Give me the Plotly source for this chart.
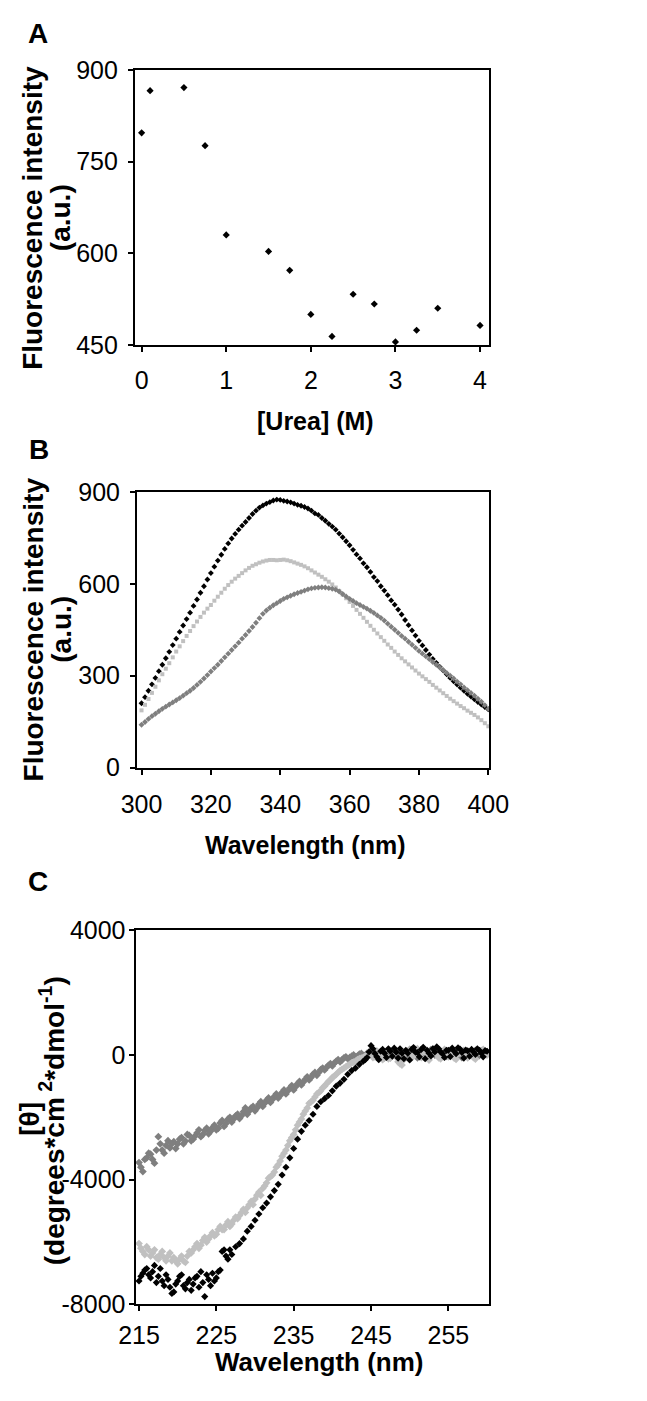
import numpy as np
import plotly.graph_objects as go

# ---------------- Panel A data ----------------
urea_m = [0, 0.1, 0.5, 0.75, 1, 1.5, 1.75, 2, 2.25, 2.5, 2.75, 3, 3.25, 3.5, 4]
fluo_a = [797, 866, 871, 776, 630, 603, 572, 500, 464, 533, 517, 455, 474, 510, 482]

# ---------------- Panel B data ----------------
wl_b = list(range(300, 401))
fluo_black = [210, 230, 251, 272, 293, 315, 336, 357, 378, 400,
              421, 443, 464, 485, 506, 528, 549, 571, 592, 614,
              635, 656, 676, 695, 714, 732, 748, 763, 777, 790,
              802, 815, 828, 839, 849, 856, 862, 867, 872, 875,
              874, 871, 869, 866, 862, 858, 855, 851, 846, 839,
              830, 825, 815, 806, 796, 787, 777, 764, 752, 739,
              726, 711, 696, 683, 667, 654, 639, 622, 609, 592,
              578, 563, 546, 532, 516, 500, 482, 465, 448, 431,
              414, 399, 384, 369, 355, 342, 329, 317, 305, 293,
              282, 271, 261, 251, 241, 232, 223, 214, 206, 198,
              190]
fluo_light = [187, 205, 224, 244, 264, 285, 305, 323, 341, 360,
              379, 396, 413, 430, 446, 462, 477, 492, 506, 519,
              531, 545, 558, 571, 584, 596, 607, 617, 626, 635,
              644, 652, 659, 664, 669, 673, 676, 678, 678, 677,
              678, 679, 677, 674, 670, 666, 662, 657, 651, 644,
              637, 630, 623, 615, 607, 598, 588, 577, 565, 553,
              541, 528, 515, 502, 489, 476, 463, 450, 438, 426,
              414, 402, 391, 379, 368, 357, 347, 337, 327, 317,
              307, 298, 289, 280, 270, 261, 252, 243, 234, 225,
              217, 209, 201, 194, 186, 179, 172, 164, 155, 145,
              135]
fluo_dark = [140, 149, 159, 168, 176, 184, 192, 199, 206, 213,
             220, 227, 235, 243, 251, 260, 270, 280, 291, 302,
             314, 325, 336, 348, 360, 372, 384, 396, 408, 421,
             433, 446, 459, 473, 488, 502, 513, 522, 530, 537,
             544, 551, 556, 561, 566, 570, 574, 578, 582, 585,
             587, 588, 589, 588, 586, 584, 581, 575, 567, 559,
             551, 544, 537, 531, 525, 519, 512, 505, 497, 489,
             480, 470, 460, 450, 440, 430, 421, 411, 401, 391,
             381, 372, 363, 354, 345, 336, 327, 318, 309, 300,
             291, 281, 272, 262, 253, 244, 235, 225, 215, 204,
             192]

# ---------------- Panel C data ----------------
# readings on the half-nm grid (215.0 ... 260.0)
wl_c = list(np.arange(215.0, 260.01, 0.5))
cd_dark = [-3450, -3740, -3300, -3180, -3470, -2620, -3050, -2900, -2980, -2780,
           -2850, -2650, -2760, -2580, -2700, -2500, -2620, -2420, -2530, -2330,
           -2400, -2180, -2290, -2060, -2150, -1950, -2040, -1820, -1900, -1700,
           -1790, -1580, -1650, -1450, -1520, -1330, -1380, -1200, -1250, -1060,
           -1120, -920, -960, -780, -800, -620, -650, -470, -480, -330,
           -350, -200, -220, -90, -120, -40, -70, 30, -20, 60,
           10, 90, -60, 120, 30, -80, 150, 40, -110, 90,
           180, 20, -90, 140, 60, -40, 190, 80, -70, 120,
           20, 160, -50, 90, 130, -30, 70, 150, -20, 60,
           100]
cd_light = [-6050, -6300, -6150, -6450, -6250, -6550, -6300, -6600, -6350, -6500,
            -6700, -6450, -6650, -6300, -6250, -6050, -6100, -5850, -5900, -5700,
            -5750, -5500, -5600, -5350, -5420, -5200, -5150, -4950, -4900, -4700,
            -4620, -4400, -4280, -4100, -3900, -3750, -3520, -3250, -3050, -2750,
            -2550, -2250, -2050, -1800, -1550, -1450, -1250, -1150, -1000, -850,
            -720, -620, -500, -420, -330, -250, -200, -120, -80, -20,
            150, -60, 80, -150, 120, -100, 40, -220, -320, 60,
            160, -40, 200, -80, 90, -160, 130, 20, -120, 180,
            -60, 100, -140, 60, 150, -90, 40, -130, 110, 180,
            0]
cd_black = [-7250, -7000, -6850, -7150, -6750, -7100, -7250, -7050, -7450, -7600,
            -7250, -7050, -7500, -7200, -7350, -7100, -6950, -7750, -7200, -7000,
            -7150, -6900, -6250, -6550, -6400, -6150, -6050, -5900, -5650, -5500,
            -5300, -5100, -4900, -4750, -4550, -4350, -4150, -3850, -3600, -3300,
            -3000, -2700, -2450, -2250, -2100, -1900, -1650, -1500, -1400, -1300,
            -1150, -1000, -900, -780, -620, -500, -420, -300, -200, -80,
            300, 50, -150, 180, -80, 120, 220, -100, 60, 150,
            -160, 240, 80, 180, -120, 60, 200, 260, 100, -80,
            150, 220, 40, 190, -100, 130, 180, 20, 150, -60,
            120]

# readings in between (215.25 ... 259.75)
wl_c_mid = list(np.arange(215.25, 259.76, 0.5))
cd_dark_mid = [-3600, -3350, -3150, -3350, -3050, -2850, -3150, -2750, -2850, -3000,
               -2700, -2850, -2550, -2750, -2600, -2400, -2550, -2350, -2450, -2250,
               -2350, -2100, -2200, -2000, -2050, -1900, -1950, -1700, -1800, -1650,
               -1700, -1500, -1550, -1380, -1430, -1250, -1300, -1120, -1150, -980,
               -1020, -850, -870, -700, -720, -560, -560, -420, -400, -280,
               -260, -150, -160, -60, -80, 0, -40, 50, -60, 30,
               100, -30, 60, -90, 110, 20, -50, 130, 60, -70,
               90, 150, 30, -60, 110, 170, 0, 140, 50, -40,
               110, 60, 130, -80, 40, 110, -40, 90, 140, 30]
cd_light_mid = [-6200, -6400, -6250, -6350, -6500, -6400, -6500, -6450, -6600, -6600,
                -6550, -6600, -6450, -6350, -6150, -6200, -5950, -6000, -5800, -5800,
                -5600, -5600, -5450, -5500, -5300, -5250, -5050, -5050, -4800, -4800,
                -4500, -4500, -4200, -3950, -3850, -3600, -3400, -3150, -2900, -2650,
                -2400, -2150, -1900, -1700, -1500, -1350, -1200, -1050, -920, -800,
                -680, -560, -460, -380, -300, -230, -150, -100, -40, 60,
                -80, 130, -40, 60, -120, 100, -60, -280, -150, 120,
                50, 170, -30, 110, -100, 40, 170, -90, 80, 30,
                160, -100, 40, 130, -30, 90, -80, 170, 30, 90]
wl_c_black_lo = list(np.arange(215.25, 226.76, 0.5))
cd_black_lo = [-7100, -6900, -7050, -6950, -7300, -6850, -7400, -7200, -7650, -7350,
               -7100, -7400, -7300, -7550, -7150, -7450, -7300, -7050, -7400, -7250,
               -6950, -6300, -6450, -6250]
wl_c_black_hi = list(np.arange(244.25, 259.76, 0.5))
cd_black_hi = [-150, 100, 200, -60, 120, 60, 200, -40, 90, 200,
               -120, 60, 180, 90, -60, 250, 150, -30, 100, 200,
               40, 150, -50, 120, 230, 80, 160, -40, 100, 200,
               60, 140]

# tick labels
ticks_a_x = [0, 1, 2, 3, 4]
ticks_a_y = [450, 600, 750, 900]
ticks_b_x = [300, 320, 340, 360, 380, 400]
ticks_b_y = [0, 300, 600, 900]
ticks_c_x = [215, 225, 235, 245, 255]
ticks_c_y = [-8000, -4000, 0, 4000]
ticks_c_y_text = ["-8000", "-4000", "0", "4000"]

FONT = "Liberation Sans, Arial, Helvetica, sans-serif"
BLACK = "#000000"
LIGHT = "#c0c0c0"
DARK = "#7f7f7f"

W, H = 647, 1401


def px(x):
    return x / W


def py(y):
    return 1 - y / H


def mk(sym, size, color):
    return dict(symbol=sym, size=size, color=color, line=dict(width=0))


fig = go.Figure()

# Panel A
fig.add_trace(go.Scatter(x=urea_m, y=fluo_a, mode="markers", xaxis="x", yaxis="y",
                         marker=mk("diamond", 5.5, BLACK), cliponaxis=False, showlegend=False))
# Panel B
fig.add_trace(go.Scatter(x=wl_b, y=fluo_black, mode="markers", xaxis="x2", yaxis="y2",
                         marker=mk("diamond", 4.5, BLACK), cliponaxis=False, showlegend=False))
fig.add_trace(go.Scatter(x=wl_b, y=fluo_light, mode="markers", xaxis="x2", yaxis="y2",
                         marker=mk("square", 4, LIGHT), cliponaxis=False, showlegend=False))
fig.add_trace(go.Scatter(x=wl_b, y=fluo_dark, mode="markers", xaxis="x2", yaxis="y2",
                         marker=mk("diamond", 4.5, DARK), cliponaxis=False, showlegend=False))
# Panel C
fig.add_trace(go.Scatter(x=wl_c + wl_c_mid, y=cd_dark + cd_dark_mid, mode="markers",
                         xaxis="x3", yaxis="y3", marker=mk("diamond", 6, DARK),
                         cliponaxis=False, showlegend=False))
fig.add_trace(go.Scatter(x=wl_c + wl_c_mid, y=cd_light + cd_light_mid, mode="markers",
                         xaxis="x3", yaxis="y3", marker=mk("diamond", 6, LIGHT),
                         cliponaxis=False, showlegend=False))
fig.add_trace(go.Scatter(x=wl_c + wl_c_black_lo + wl_c_black_hi,
                         y=cd_black + cd_black_lo + cd_black_hi, mode="markers",
                         xaxis="x3", yaxis="y3", marker=mk("diamond", 5.5, BLACK),
                         cliponaxis=False, showlegend=False))


def ax(size, standoff, **kw):
    d = dict(showline=True, linecolor=BLACK, linewidth=2, mirror=True,
             ticks="outside", ticklen=5, tickwidth=2, tickcolor=BLACK,
             showgrid=False, zeroline=False, ticklabelstandoff=standoff,
             tickfont=dict(family=FONT, size=size, color=BLACK))
    d.update(kw)
    return d


fig.update_layout(
    width=W, height=H, autosize=False,
    margin=dict(l=0, r=0, t=0, b=0),
    paper_bgcolor="white", plot_bgcolor="white",
    xaxis=ax(25, 7, domain=[px(125), px(501)], range=[-0.08, 4.11],
             tickvals=ticks_a_x, anchor="y"),
    yaxis=ax(25, 5, domain=[py(337.7), py(57)], range=[450, 900],
             tickvals=ticks_a_y, anchor="x"),
    xaxis2=ax(25, 8, domain=[px(127.3), px(501)], range=[298.7, 400.3],
              tickvals=ticks_b_x, anchor="y2"),
    yaxis2=ax(25, 5, domain=[py(769), py(487.7)], range=[0, 900],
              tickvals=ticks_b_y, anchor="x2"),
    xaxis3=ax(25, 3, domain=[px(125.7), px(501)], range=[214.55, 260.3],
              tickvals=ticks_c_x, anchor="y3"),
    yaxis3=ax(25, -2, domain=[py(1316.7), py(935)], range=[-8000, 4000],
              tickvals=ticks_c_y, ticktext=ticks_c_y_text, anchor="x3"),
)

# (text, x, y, angle, size)
annots = [
    ("<b>A</b>", 22, 20, 0, 28),
    ("<b>B</b>", 23, 444, 0, 28),
    ("<b>C</b>", 22, 885, 0, 28),
    ("<b>Fluorescence intensity</b>", 17, 208, -90, 28),
    ("<b>(a.u.)</b>", 47, 208, -90, 28),
    ("<b>Fluorescence intensity</b>", 17, 628, -90, 28),
    ("<b>(a.u.)</b>", 47, 628, -90, 28),
    ("<b>[θ]</b>", 13, 1127, -90, 28),
    ("<b>(degrees*cm<sup> 2</sup>*dmol<sup>-1</sup>)</b>", 38, 1129, -90, 28),
    ("<b>[Urea] (M)</b>", 316.7, 415, 0, 25),
    ("<b>Wavelength (nm)</b>", 305, 848, 0, 25),
    ("<b>Wavelength (nm)</b>", 320.7, 1376, 0, 26),
]
for text, x, y, ang, size in annots:
    fig.add_annotation(text=text, x=px(x), y=py(y), xref="paper", yref="paper",
                       xanchor="center", yanchor="middle", showarrow=False,
                       textangle=ang, font=dict(family=FONT, size=size, color=BLACK))

fig.write_html("out.html", config={"displayModeBar": False},
               post_script="document.body.style.margin='0';")
